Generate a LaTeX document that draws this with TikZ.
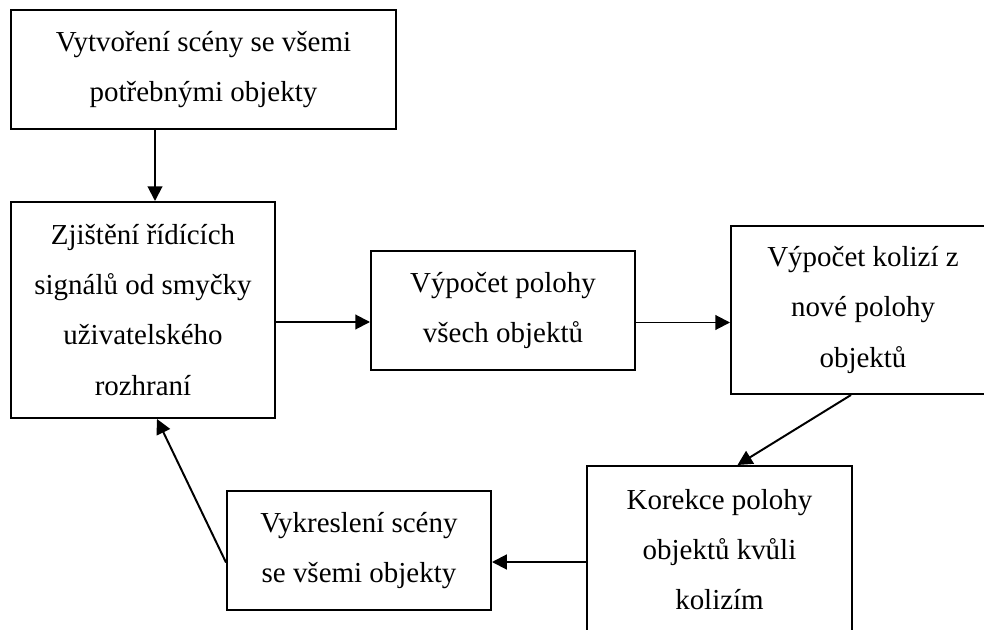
\documentclass[tikz,border=0pt]{standalone}
\usepackage{fontspec}
\setmainfont{Liberation Serif}
\usepackage{tikz}
\usetikzlibrary{arrows.meta,positioning,calc}

\begin{document}
\begin{tikzpicture}[
  stepbox/.style={draw, line width=1.4pt, align=center, inner sep=0pt,
    minimum width=6.6cm, minimum height=2.975cm,
    font=\fontsize{20.6pt}{35.6pt}\selectfont},
  flow/.style={line width=1.4pt, -{Triangle[length=10.5pt,width=10.5pt]}}]
  \useasboundingbox (0,0) rectangle (24.6,15.725);
  % Start of the program
  \node[stepbox, minimum width=9.625cm] (start) at (5.0875,13.9875)
    {Vytvoření scény se všemi\\potřebnými objekty};
  % Loop steps
  \node[stepbox, minimum height=5.4cm] (detect) at (3.575,7.975)
    {Zjištění řídících\\signálů od smyčky\\uživatelského\\rozhraní};
  \node[stepbox] (position) at (12.575,7.9625)
    {Výpočet polohy\\všech objektů};
  \node[stepbox, minimum height=4.2cm] (collision) at (21.575,7.975)
    {Výpočet kolizí z\\nové polohy\\objektů};
  \node[stepbox, minimum width=6.625cm, minimum height=4.2cm] (correct) at (17.9875,1.975)
    {Korekce polohy\\objektů kvůli\\kolizím};
  \node[stepbox] (render) at (8.975,1.9625)
    {Vykreslení scény\\se všemi objekty};
  % Arrows
  \draw[flow] ([xshift=0.3cm]detect.north |- start.south) -- ([xshift=0.3cm]detect.north);
  \draw[flow] ([yshift=-0.3cm]detect.east) -- ([yshift=-0.3cm]detect.east -| position.west);
  \draw[flow] ([yshift=-0.3cm]position.east) -- ([yshift=-0.3cm]position.east -| collision.west);
  \draw[flow] ([xshift=-0.3cm]collision.south) -- ([xshift=0.45cm]correct.north);
  \draw[flow] ([yshift=-0.3cm]correct.west) -- ([yshift=-0.3cm]correct.west -| render.east);
  \draw[flow] ([yshift=-0.3cm]render.west) -- ([xshift=0.35cm]detect.south);
\end{tikzpicture}
\end{document}
